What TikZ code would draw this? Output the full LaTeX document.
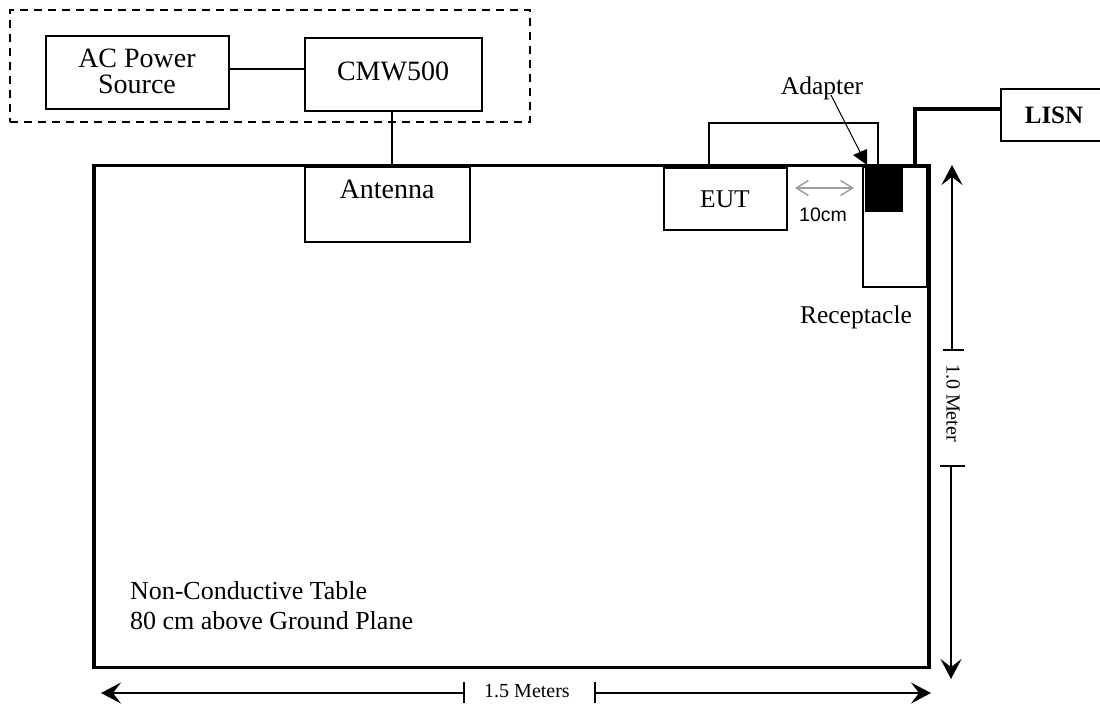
\documentclass[tikz,border=0pt]{standalone}
\usepackage{fontspec}
\setmainfont{Liberation Serif}
\newfontfamily\arialf{Liberation Sans}
\usetikzlibrary{arrows.meta}
\tikzset{
 x=1pt,y=-1pt,
 every node/.style={outer sep=0pt},
 box/.style={draw=black,line width=1.5pt,fill=white,inner sep=0pt,anchor=north west,align=center},
 wire/.style={draw=black,line width=1.5pt},
 heavy/.style={draw=black,line width=3.5pt},
 dimline/.style={draw=black,line width=1.5pt},
 tip/.tip={Stealth[inset=8pt,length=20pt,width=21pt]},
 lbl/.style={inner sep=0pt,anchor=base,font=\fontsize{25.5}{26}\selectfont},
}
\begin{document}
\begin{tikzpicture}
\useasboundingbox (0,0) rectangle (1100,704);
\node[draw=black,line width=1.5pt,dash pattern=on 8pt off 6pt,minimum width=520pt,minimum height=112pt,anchor=north west,inner sep=0pt] (group) at (10,10) {};
\node[box,minimum width=183pt,minimum height=73pt] (ac) at (46,36) {};
\node[inner sep=0pt,align=center,font=\fontsize{28}{26}\selectfont] (acl) at (137,71) {AC Power\\Source};
\node[box,minimum width=177pt,minimum height=73pt] (cmw) at (305,38) {};
\node[lbl,font=\fontsize{28}{28}\selectfont] (cmwl) at (393,80) {CMW500};
\node[draw=black,line width=3.5pt,minimum width=835pt,minimum height=502pt,anchor=north west,inner sep=0pt] (table) at (94,165.7) {};
\node[box,minimum width=165pt,minimum height=75pt] (ant) at (305,167) {};
\node[lbl,font=\fontsize{28}{28}\selectfont] (antl) at (387,198) {Antenna};
\node[box,minimum width=123pt,minimum height=62pt] (eut) at (664,168) {};
\node[lbl] (eutl) at (725,207) {EUT};
\node[box,minimum width=64pt,minimum height=120pt] (rec) at (863,167) {};
\node[fill=black,inner sep=0pt,minimum width=38pt,minimum height=46pt,anchor=north west] (adp) at (865,166) {};
\node[box,minimum width=104pt,minimum height=52pt] (lisn) at (1001,89) {};
\node[lbl,font=\bfseries\fontsize{25}{26}\selectfont] (lisnl) at (1054,123) {LISN};
\draw[wire] (ac.east |- 0,69) -- (cmw.west |- 0,69);
\draw[wire] (cmw.south -| 392,0) -- (table.north -| 392,0);
\coordinate (w1) at (709,165);
\coordinate (w2) at (878,165);
\draw[wire] (w1) -- (709,123) -- (878,123) -- (w2);
\coordinate (l1) at (915,165);
\draw[heavy] (l1) -- (915,109) -- (lisn.west |- 0,109);
\node[lbl] (adl) at (822,94) {Adapter};
\coordinate (adt) at (867,165);
\coordinate (ads) at (831,95);
\draw[draw=black,line width=1pt] (ads) -- (860,152);
\fill[black] (853,155) -- (867,149) -- (adt) -- cycle;
\coordinate (g1) at (795,188);
\coordinate (g2) at (854,188);
\draw[draw=black!38,line width=1.5pt,{Straight Barb[length=12pt,width=15pt]}-{Straight Barb[length=12pt,width=15pt]}] (g1) -- (g2);
\node[lbl,font=\arialf\fontsize{19.5}{20}\selectfont] (cm) at (823,221) {10cm};
\node[lbl] (recl) at (856,323) {Receptacle};
\node[inner sep=0pt,rotate=-90,font=\fontsize{20}{20}\selectfont] (m1) at (953,403) {1.0 Meter};
\coordinate (vt) at (952,165);
\coordinate (vb) at (951,679);
\coordinate (vm1) at (952,350);
\coordinate (vm2) at (951,466);
\draw[dimline,{tip}-] (vt) -- (vm1);
\draw[dimline,-{tip}] (vm2) -- (vb);
\draw[dimline] (943,350) -- (964,350) (940,466) -- (965,466);
\node[lbl,font=\fontsize{20}{20}\selectfont] (m2) at (527,697) {1.5 Meters};
\coordinate (hl) at (101,693);
\coordinate (hr) at (931,693);
\coordinate (hm1) at (464,693);
\coordinate (hm2) at (595,693);
\draw[dimline,{tip}-] (hl) -- (hm1);
\draw[dimline,-{tip}] (hm2) -- (hr);
\draw[dimline] (464,682) -- (464,703) (595,682) -- (595,703);
\node[inner sep=0pt,align=left,anchor=west,font=\fontsize{26}{30}\selectfont] (nt) at (130,605.5) {Non-Conductive Table\\80 cm above Ground Plane};
\end{tikzpicture}
\end{document}
